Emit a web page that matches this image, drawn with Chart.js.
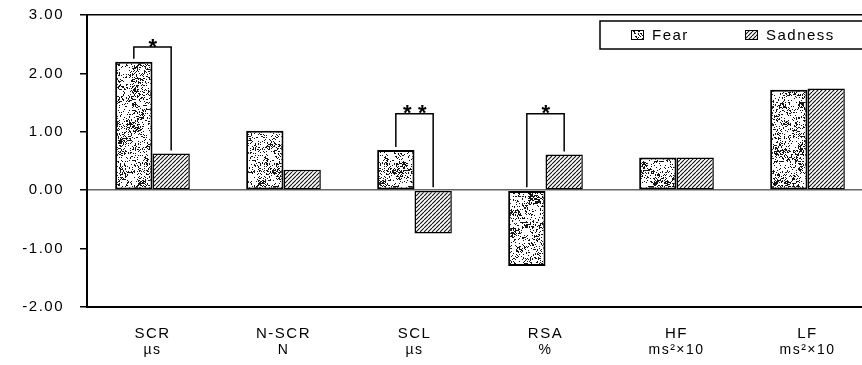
<!DOCTYPE html>
<html>
<head>
<meta charset="utf-8">
<script src="https://cdn.jsdelivr.net/npm/chart.js@4.4.0/dist/chart.umd.min.js"></script>
<style>
  body { margin: 0; overflow: hidden; background: #fff; }
  canvas { display: block; }
</style>
</head>
<body>
<canvas id="grafico" width="873" height="365"></canvas>
<script>
// Dados do gráfico
const categorias = ['SCR', 'N-SCR', 'SCL', 'RSA', 'HF', 'LF'];
const unidades = ['\u00b5s', 'N', '\u00b5s', '%', 'ms\u00b2\u00d710', 'ms\u00b2\u00d710'];
const medo = [2.20, 1.02, 0.69, -1.30, 0.56, 1.72];
const tristeza = [0.63, 0.35, -0.74, 0.61, 0.56, 1.74];
const valoresEixoY = [-2, -1, 0, 1, 2, 3];

// Diferenças significativas
const sigIndice = [0, 2, 3];
const sigTopo = [2.45, 1.31, 1.31];
const sigMarca = ['*', '**', '*'];

// Texturas
function hash(x, y) {
    const s = Math.sin(x * 12.9898 + y * 78.233) * 43758.5453;
    return s - Math.floor(s);
}

function texturaPontilhada() {
    const n = 120;
    const c = document.createElement('canvas');
    c.width = n; c.height = n;
    const g = c.getContext('2d');
    const img = g.createImageData(n, n);
    for (let y = 0; y < n; y++) {
        for (let x = 0; x < n; x++) {
            const bloco = hash(Math.floor(x / 6) + 3.1, Math.floor(y / 6) + 7.7);
            const p = 0.1 + 0.55 * bloco * bloco;
            const v = hash(x + 0.5, y + 0.25) < p ? 20 : 255;
            const i = (y * n + x) * 4;
            img.data[i] = v; img.data[i + 1] = v; img.data[i + 2] = v; img.data[i + 3] = 255;
        }
    }
    g.putImageData(img, 0, 0);
    return g.createPattern(c, 'repeat');
}

function texturaHachurada() {
    const n = 4;
    const c = document.createElement('canvas');
    c.width = n; c.height = n;
    const g = c.getContext('2d');
    g.fillStyle = '#fff';
    g.fillRect(0, 0, n, n);
    g.strokeStyle = '#111';
    g.lineWidth = 1.1;
    g.beginPath();
    [-n, 0, n].forEach(k => {
        g.moveTo(k, n);
        g.lineTo(k + n, 0);
    });
    g.stroke();
    return g.createPattern(c, 'repeat');
}

const padraoMedo = texturaPontilhada();
const padraoTristeza = texturaHachurada();

const extras = {
    id: 'extras',
    beforeDraw(chart) {
        chart.ctx.letterSpacing = '1.5px';
    },
    afterDatasetsDraw(chart) {
        const ctx = chart.ctx;
        const y = chart.scales.y;
        const m0 = chart.getDatasetMeta(0);
        const m1 = chart.getDatasetMeta(1);
        ctx.save();
        ctx.strokeStyle = '#000';
        ctx.lineWidth = 1.5;
        ctx.fillStyle = '#000';
        sigIndice.forEach((idx, k) => {
            const xa = m0.data[idx].x;
            const xb = m1.data[idx].x;
            const topo = y.getPixelForValue(sigTopo[k]);
            const ya = y.getPixelForValue(Math.max(medo[idx], 0)) - 3;
            const yb = y.getPixelForValue(Math.max(tristeza[idx], 0)) - 3;
            ctx.beginPath();
            ctx.moveTo(xa, ya);
            ctx.lineTo(xa, topo);
            ctx.lineTo(xb, topo);
            ctx.lineTo(xb, yb);
            ctx.stroke();
            ctx.font = 'bold 22px "Liberation Sans"';
            ctx.letterSpacing = '6.5px';
            ctx.textAlign = 'center';
            ctx.textBaseline = 'alphabetic';
            ctx.fillText(sigMarca[k], (xa + xb) / 2 + 3.5, topo + 6.5);
        });
        ctx.restore();
    },
    afterDraw(chart) {
        // legenda com caixa
        const ctx = chart.ctx;
        const area = chart.chartArea;
        const lx = area.right - 273;
        const ly = area.top + 6;
        ctx.save();
        ctx.fillStyle = '#fff';
        ctx.fillRect(lx, ly, chart.width, 28);
        ctx.strokeStyle = '#000';
        ctx.lineWidth = 1.5;
        ctx.strokeRect(lx, ly, chart.width, 28);
        ctx.font = '15px "Liberation Sans"';
        ctx.letterSpacing = '1.5px';
        ctx.textBaseline = 'middle';
        ctx.textAlign = 'left';
        chart.data.datasets.forEach((ds, i) => {
            const x = lx + 31 + i * 114;
            ctx.fillStyle = ds.backgroundColor;
            ctx.fillRect(x, ly + 9, 13, 10);
            ctx.lineWidth = 1;
            ctx.strokeRect(x + 0.5, ly + 9.5, 12, 9);
            ctx.fillStyle = '#000';
            ctx.fillText(ds.label, x + 21, ly + 14.5);
        });
        ctx.restore();
    }
};

const grafico = document.getElementById('grafico').getContext('2d');
new Chart(grafico, {
    type: 'bar',
    data: {
        labels: categorias,
        datasets: [{
            label: 'Fear',
            data: medo,
            xAxisID: 'x',
            backgroundColor: padraoMedo,
            borderColor: '#000',
            borderWidth: 2,
            borderSkipped: false
        }, {
            label: 'Sadness',
            data: tristeza,
            xAxisID: 'x',
            backgroundColor: padraoTristeza,
            borderColor: '#000',
            borderWidth: 1.5,
            borderSkipped: false
        }]
    },
    options: {
        responsive: false,
        animation: false,
        devicePixelRatio: 1,
        categoryPercentage: 0.57,
        barPercentage: 1,
        layout: { padding: { top: 15, right: 0, bottom: 7, left: 0 } },
        plugins: {
            legend: { display: false },
            tooltip: { enabled: false }
        },
        scales: {
            x: {
                offset: true,
                weight: 0,
                grid: { display: false, drawTicks: false },
                border: { color: '#000', width: 2 },
                ticks: {
                    padding: 18,
                    color: '#000',
                    autoSkip: false,
                    maxRotation: 0,
                    font: { family: 'Liberation Sans', size: 15 }
                },
                afterFit: s => { s.height = 35; s.paddingLeft = 0; s.paddingRight = 0; }
            },
            x2: {
                type: 'category',
                labels: unidades,
                position: 'bottom',
                offset: true,
                weight: 1,
                grid: { display: false, drawTicks: false },
                border: { display: false },
                ticks: {
                    padding: 0,
                    color: '#000',
                    autoSkip: false,
                    maxRotation: 0,
                    font: { family: 'Liberation Sans', size: 14 }
                },
                afterFit: s => { s.height = 16; s.paddingLeft = 0; s.paddingRight = 0; }
            },
            y: {
                min: valoresEixoY[0],
                max: valoresEixoY[valoresEixoY.length - 1],
                afterBuildTicks: s => { s.ticks = valoresEixoY.map(v => ({ value: v })); },
                ticks: {
                    padding: 16,
                    color: '#000',
                    font: { family: 'Liberation Sans', size: 15 },
                    callback: v => Number(v).toFixed(2)
                },
                grid: {
                    color: c => {
                        if (!c.tick) return 'rgba(0,0,0,0)';
                        if (c.tick.value === 0) return '#666';
                        if (c.tick.value === 3) return '#000';
                        return 'rgba(0,0,0,0)';
                    },
                    lineWidth: 1.5,
                    tickColor: '#000',
                    tickWidth: 1.5,
                    tickLength: 7
                },
                border: { color: '#000', width: 2 },
                afterFit: s => { s.width = 87; s.paddingTop = 0; s.paddingBottom = 0; }
            }
        }
    },
    plugins: [extras]
});
</script>
</body>
</html>
